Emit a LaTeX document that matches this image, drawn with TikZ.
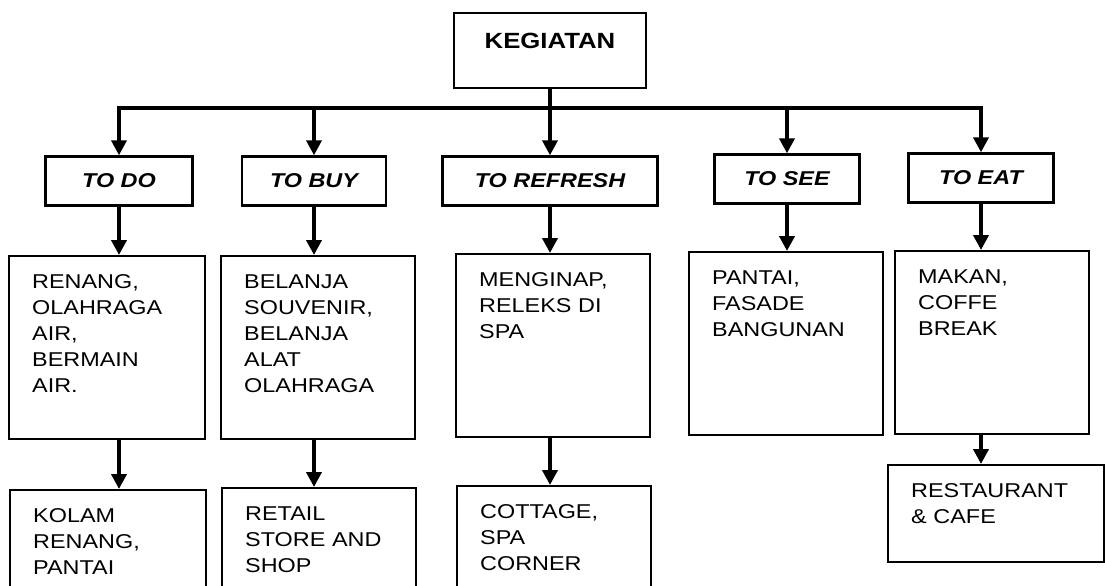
\documentclass[tikz,border=0pt]{standalone}
\usepackage{fontspec}
\setmainfont[FakeStretch=1.17]{Liberation Sans}
\usetikzlibrary{arrows.meta}

\begin{document}
\begin{tikzpicture}[x=0.5pt,y=-0.5pt,>={Triangle[width=7.5pt,length=7.5pt]},every node/.style={font=\fontsize{10}{13}\selectfont},head/.style={draw,line width=1.2pt,font=\bfseries\fontsize{11}{13}\selectfont,align=center,text width=96pt,inner sep=0pt,text height=17.5pt,text depth=20pt},cat/.style={draw,line width=1.2pt,font=\bfseries\itshape\fontsize{10}{13}\selectfont,minimum height=24.5pt,inner sep=0pt},item/.style={draw,line width=1.2pt,anchor=north west,align=left,text width=74pt,inner xsep=11.5pt,inner ysep=0pt,text height=16.2pt,text depth=75.3pt},link/.style={line width=2pt}]
\useasboundingbox (0,0) rectangle (1105,585);
\node[head,anchor=north] (kegiatan) at (550,12) {KEGIATAN};
\coordinate (bus) at (550,108);
% categories
\node[cat,minimum width=73.5pt] (todo) at (119,181) {TO DO};
\node[cat,minimum width=72pt] (tobuy) at (314,181) {TO BUY};
\node[cat,minimum width=107.5pt] (torefresh) at (550,181) {TO REFRESH};
\node[cat,minimum width=72.5pt] (tosee) at (787,179) {TO SEE};
\node[cat,minimum width=72.5pt] (toeat) at (981,178) {TO EAT};
% activities
\node[item,text width=75pt] (renang) at (8,255) {RENANG,\\OLAHRAGA\\AIR,\\BERMAIN\\AIR.};
\node[item] (belanja) at (220,255) {BELANJA\\SOUVENIR,\\BELANJA\\ALAT\\OLAHRAGA};
\node[item] (menginap) at (455,253) {MENGINAP,\\RELEKS DI\\SPA};
\node[item] (pantai) at (688,251) {PANTAI,\\FASADE\\BANGUNAN};
\node[item] (makan) at (894,250) {MAKAN,\\COFFE\\BREAK};
% places
\node[item,text width=75pt,text depth=50pt] (kolam) at (9,489) {KOLAM\\RENANG,\\PANTAI};
\node[item,text depth=50pt] (retail) at (221,487) {RETAIL\\STORE AND\\SHOP};
\node[item,text depth=50pt] (cottage) at (456,485) {COTTAGE,\\SPA\\CORNER};
\node[item,text width=85pt,text depth=32.3pt] (restaurant) at (887,464) {RESTAURANT\\\& CAFE};
\draw[link] (kegiatan) -- (bus);
\draw[link,->] (bus) -- (torefresh);
\foreach \n in {todo,tobuy,tosee,toeat}
  \draw[link,->] (bus) -| (\n);
\foreach \c/\m in {todo/renang,tobuy/belanja,torefresh/menginap,tosee/pantai,toeat/makan}
  \draw[link,->] (\c) -- (\c |- \m.north);
\foreach \c/\m/\b in {todo/renang/kolam,tobuy/belanja/retail,torefresh/menginap/cottage,toeat/makan/restaurant}
  \draw[link,->] (\c |- \m.south) -- (\c |- \b.north);
\end{tikzpicture}
\end{document}
